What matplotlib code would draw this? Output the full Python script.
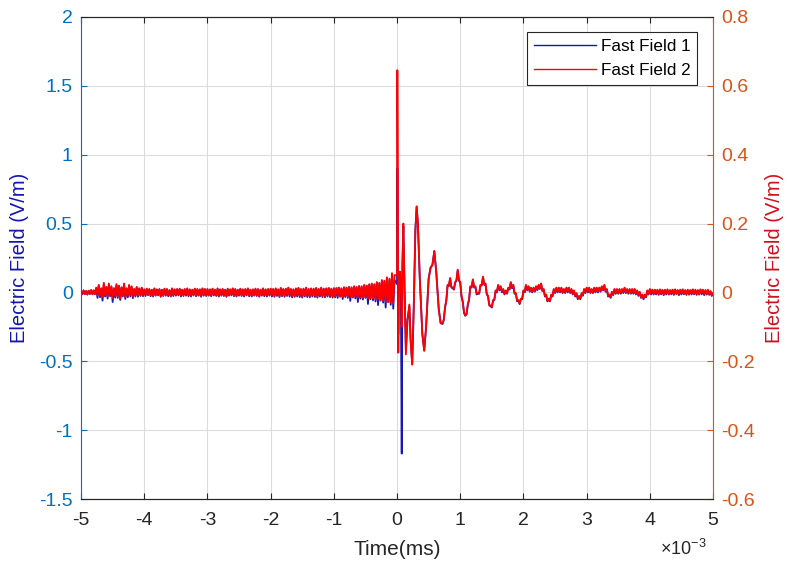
#!/usr/bin/env python3
"""
Fast field antenna records around the trigger, two channels on twin y axes.
"""

import numpy as np
import matplotlib
matplotlib.use("Agg")
import matplotlib.pyplot as plt
from matplotlib.ticker import FuncFormatter

plt.rcParams['font.family'] = ['Liberation Sans', 'DejaVu Sans']
plt.rcParams['axes.unicode_minus'] = False
plt.rcParams['mathtext.fontset'] = 'custom'
plt.rcParams['mathtext.rm'] = 'Liberation Sans'
plt.rcParams['mathtext.it'] = 'Liberation Sans'

# ---- pre-trigger record, -5.00 .. -0.04 ms every 0.02 ms (mV/m) ----
ff1_pre = [
    12, -14, 14, -12, 10, -16, 12, -12, 16, -14, 14, -12, 30, -40, 50, -35, 28, -60, 60, -30, 38, -45, 55, -28, 40,
    -70, 30, -38, 52, -40, 45, -55, 35, -30, 58, -48, 28, -36, 48, -30, 40, -42, 24, -30, 36, -32, 28, -26, 32, -28,
    20, -26, 24, -20, 22, -28, 18, -30, 26, -24, 20, -22, 22, -32, 18, -26, 24, -24, 22, -28, 16, -30, 26, -26, 20,
    -24, 22, -22, 24, -30, 18, -26, 20, -24, 26, -28, 20, -30, 18, -22, 24, -28, 22, -24, 20, -32, 26, -24, 22, -26,
    22, -24, 20, -28, 24, -22, 18, -26, 26, -30, 20, -24, 22, -26, 18, -32, 24, -24, 20, -22, 26, -28, 22, -30, 18,
    -24, 24, -26, 20, -30, 22, -22, 26, -28, 18, -30, 20, -24, 24, -26, 22, -32, 18, -24, 26, -28, 20, -30, 22, -24,
    24, -30, 22, -32, 26, -26, 20, -34, 30, -28, 22, -32, 24, -26, 32, -30, 22, -36, 20, -32, 26, -30, 30, -34, 22,
    -38, 24, -30, 32, -34, 22, -36, 26, -30, 24, -34, 30, -38, 22, -30, 32, -34, 24, -36, 26, -30, 30, -34, 24, -38,
    30, -36, 28, -40, 34, -32, 26, -48, 36, -34, 32, -40, 38, -62, 34, -38, 42, -44, 36, -70, 44, -46, 40, -52, 50,
    -40, 48, -84, 56, -50, 60, -58, 54, -66, 70, -92, 64, -60, 84, -74, 80, -110, 96, -70, 92, -90, 124, -118, 90,
]
ff2_pre = [
    5, -4, 6, -5, 4, -6, 5, -4, 7, -5, 6, -5, 14, -8, 22, -10, 12, -14, 28, -9, 16, -12, 26, -8, 18,
    -16, 12, -10, 24, -12, 20, -18, 15, -9, 26, -14, 12, -10, 22, -8, 18, -12, 10, -9, 16, -10, 12, -8, 14, -9,
    9, -8, 11, -7, 10, -9, 8, -10, 12, -8, 9, -7, 10, -11, 8, -9, 11, -8, 10, -9, 7, -10, 12, -9, 9,
    -8, 10, -7, 11, -10, 8, -9, 10, -8, 12, -9, 9, -10, 8, -7, 11, -9, 10, -8, 9, -11, 12, -8, 10, -9,
    10, -8, 9, -10, 11, -7, 8, -9, 12, -10, 9, -8, 10, -9, 8, -11, 11, -8, 9, -7, 12, -9, 10, -10, 8,
    -8, 11, -9, 9, -10, 10, -7, 12, -9, 8, -10, 9, -8, 11, -9, 10, -11, 8, -8, 12, -9, 9, -10, 10, -8,
    11, -9, 10, -10, 12, -8, 9, -11, 13, -9, 10, -10, 11, -8, 14, -9, 10, -11, 9, -10, 12, -9, 13, -10, 10,
    -12, 11, -9, 14, -10, 10, -11, 12, -9, 11, -10, 13, -12, 10, -9, 14, -10, 11, -11, 12, -9, 13, -10, 11, -12,
    12, -11, 13, -10, 14, -12, 12, -13, 15, -11, 14, -12, 16, -13, 15, -14, 18, -12, 16, -15, 19, -14, 18, -16, 22,
    -15, 20, -17, 24, -16, 26, -18, 24, -20, 30, -19, 28, -22, 36, -24, 34, -26, 44, -28, 40, -30, 56, -32, 50,
]

# ---- return stroke burst (ms, V/m) ----
burst_t = [0.00, 0.005, 0.012, 0.02, 0.03, 0.045, 0.06, 0.074, 0.085, 0.10,
           0.12, 0.14, 0.165, 0.195, 0.215, 0.24, 0.265, 0.29, 0.31, 0.33,
           0.36, 0.40, 0.43, 0.46, 0.50, 0.53, 0.56, 0.59, 0.62, 0.66, 0.69]
ff1_burst = [0.06, 0.90, 0.30, -0.30, 0.10, 0.15, 0.05, -1.17, 0.20, 0.48,
             0.00, -0.42, -0.20, -0.10, -0.35, -0.52, -0.10, 0.45, 0.62, 0.50,
             0.10, -0.30, -0.42, -0.25, 0.10, 0.18, 0.20, 0.30, 0.15, -0.12, -0.22]
ff2_burst = [0.05, 0.645, 0.35, -0.175, 0.04, 0.06, 0.02, -0.10, 0.08, 0.20,
             0.00, -0.18, -0.08, -0.035, -0.14, -0.21, -0.04, 0.18, 0.25, 0.20,
             0.04, -0.12, -0.17, -0.10, 0.04, 0.07, 0.08, 0.12, 0.06, -0.05, -0.09]

# ---- ringing tail, 0.72 .. 5.00 ms every 0.02 ms (mV/m) ----
ff1_tail = [
    -230, -200, -110, -60, 50, 45, 100, 35, 30, 20, 70, 85, 160, 85, 70, -30, -70, -150, -170, -160,
    -90, -55, 40, 35, 90, 35, 40, -15, -10, -10, 50, 50, 110, 55, 60, -15, -30, -95, -100, -110,
    -60, -55, 10, 0, 50, 15, 40, 0, 20, -15, 10, -10, 30, 20, 70, 30, 50, -10, -10, -65,
    -60, -85, -50, -50, 10, 0, 50, 15, 40, 5, 30, 0, 30, 5, 40, 15, 50, 25, 60, 10,
    20, -30, -20, -65, -50, -65, -20, -30, 20, -5, 30, 0, 30, 0, 30, -5, 20, -5, 30, 0,
    30, -5, 20, -15, 10, -30, -10, -50, -30, -50, -10, -25, 20, -5, 30, 0, 30, -5, 20, -5,
    30, 0, 30, 0, 30, 5, 40, 15, 50, 5, 20, -30, -20, -40, 0, -20, 20, -10, 20, -10,
    20, -10, 20, -5, 30, -5, 20, -10, 20, -10, 20, -10, 20, -15, 10, -25, 0, -40, -20, -50,
    -20, -35, 10, -15, 20, -15, 15, -15, 15, -15, 15, -18, 12, -14, 16, -20, 14, -15, 18, -16,
    12, -14, 15, -18, 16, -12, 14, -20, 13, -15, 16, -14, 12, -18, 15, -16, 13, -15, 17, -14,
    14, -18, 12, -15, 16, -14, 15, -20, 12, -16, 14, -18, 5, -25, -10,
]
ff2_tail = [
    -90, -78, -42, -22, 22, 20, 42, 16, 14, 10, 30, 36, 66, 36, 30, -10, -26, -58, -66, -62,
    -34, -20, 18, 16, 38, 16, 18, -4, -2, -2, 22, 22, 46, 24, 26, -4, -10, -36, -38, -42,
    -22, -20, 6, 2, 22, 8, 18, 2, 10, -4, 6, -2, 14, 10, 30, 14, 22, -2, -2, -24,
    -22, -32, -18, -18, 6, 2, 22, 8, 18, 4, 14, 2, 14, 4, 18, 8, 22, 12, 26, 6,
    10, -10, -6, -24, -18, -24, -6, -10, 10, 0, 14, 2, 14, 2, 14, 0, 10, 0, 14, 2,
    14, 0, 10, -4, 6, -10, -2, -18, -10, -18, -2, -8, 10, 0, 14, 2, 14, 0, 10, 0,
    14, 2, 14, 2, 14, 4, 18, 8, 22, 4, 10, -10, -6, -14, 2, -6, 10, -2, 10, -2,
    10, -2, 10, 0, 14, 0, 10, -2, 10, -2, 10, -2, 10, -4, 6, -8, 2, -14, -6, -18,
    -6, -12, 6, -4, 10, -4, 8, -4, 8, -4, 8, -5, 9, -4, 7, -6, 8, -3, 9, -5,
    7, -4, 8, -6, 9, -4, 7, -5, 8, -3, 9, -5, 7, -4, 8, -6, 7, -4, 9, -5,
    8, -4, 7, -6, 9, -3, 8, -5, 7, -4, 8, -5, 4, -9, -2,
]

left_ticks = [-1.5, -1, -0.5, 0, 0.5, 1, 1.5, 2]
right_ticks = [-0.6, -0.4, -0.2, 0, 0.2, 0.4, 0.6, 0.8]
x_ticks_ms = [-5, -4, -3, -2, -1, 0, 1, 2, 3, 4, 5]

BLUE_AX = '#0072BD'
ORANGE_AX = '#D95319'
DARK = '#262626'


def main():
    t_pre = np.linspace(-5.0, -0.04, len(ff1_pre))
    t_tail = np.linspace(0.72, 5.0, len(ff1_tail))

    t = np.concatenate([t_pre, burst_t, t_tail]) * 1e-3   # seconds
    ff1 = np.concatenate([np.array(ff1_pre) / 1000, ff1_burst, np.array(ff1_tail) / 1000])
    ff2 = np.concatenate([np.array(ff2_pre) / 1000, ff2_burst, np.array(ff2_tail) / 1000])

    fig = plt.figure(figsize=(7.87, 5.62), dpi=100)
    ax = fig.add_axes([0.103, 0.112, 0.803, 0.858])
    ax2 = ax.twinx()

    l1, = ax.plot(t, ff1, color='#1818b0', linewidth=1.3, label='Fast Field 1')
    l2, = ax2.plot(t, ff2, color='#ff0000', linewidth=1.3, label='Fast Field 2')

    ax.set_xlim(-5e-3, 5e-3)
    ax.set_ylim(-1.5, 2)
    ax2.set_ylim(-0.6, 0.8)

    ax.set_xticks(np.array(x_ticks_ms) * 1e-3)
    ax.set_yticks(left_ticks)
    ax2.set_yticks(right_ticks)

    ax.xaxis.set_major_formatter(FuncFormatter(lambda v, p: f'{v * 1e3:g}'))
    ax.yaxis.set_major_formatter(FuncFormatter(lambda v, p: f'{v:g}'))
    ax2.yaxis.set_major_formatter(FuncFormatter(lambda v, p: f'{v:g}'))

    ax.grid(True, color='#dcdcdc', linewidth=0.8)
    ax.set_axisbelow(True)

    # axis colours, matlab yyaxis look
    ax.spines['left'].set_color(BLUE_AX)
    ax.spines['right'].set_visible(False)
    ax.spines['top'].set_color(DARK)
    ax.spines['bottom'].set_color(DARK)
    ax2.spines['left'].set_visible(False)
    ax2.spines['right'].set_color(ORANGE_AX)
    ax2.spines['top'].set_color(DARK)
    ax2.spines['bottom'].set_color(DARK)

    ax.tick_params(axis='x', direction='in', top=True, length=4, colors=DARK,
                   labelsize=14, pad=9)
    ax.tick_params(axis='y', direction='in', length=4, colors=BLUE_AX, labelsize=14, pad=6)
    ax2.tick_params(axis='y', direction='in', length=4, colors=ORANGE_AX, labelsize=14, pad=6)

    # exponent for the time axis
    ax.text(0.99, -0.103, r'$\times10^{-3}$', transform=ax.transAxes, ha='right', va='center',
            fontsize=13, color=DARK)

    ax.set_xlabel('Time(ms)', fontsize=15, color=DARK)
    ax.xaxis.set_label_coords(0.5, -0.085)
    ax.set_ylabel('Electric Field (V/m)', fontsize=14.5, color='#1414b4')
    ax.yaxis.set_label_coords(-0.082, 0.5)
    ax2.set_ylabel('Electric Field (V/m)', fontsize=14.5, color='#d01020')
    ax2.yaxis.set_label_coords(1.082, 0.5)

    leg = ax2.legend(handles=[l1, l2], loc='upper right', bbox_to_anchor=(0.975, 0.969),
                     borderaxespad=0, fontsize=12.3, handlelength=3.65, fancybox=False,
                     framealpha=1, edgecolor=DARK, handletextpad=0.25, borderpad=0.4,
                     labelspacing=0.55)
    leg.get_frame().set_linewidth(0.8)
    for h in leg.get_lines():
        h.set_linewidth(1.0)

    fig.savefig('out.png', dpi=100)
    plt.close(fig)
    return 0


if __name__ == "__main__":
    main()
